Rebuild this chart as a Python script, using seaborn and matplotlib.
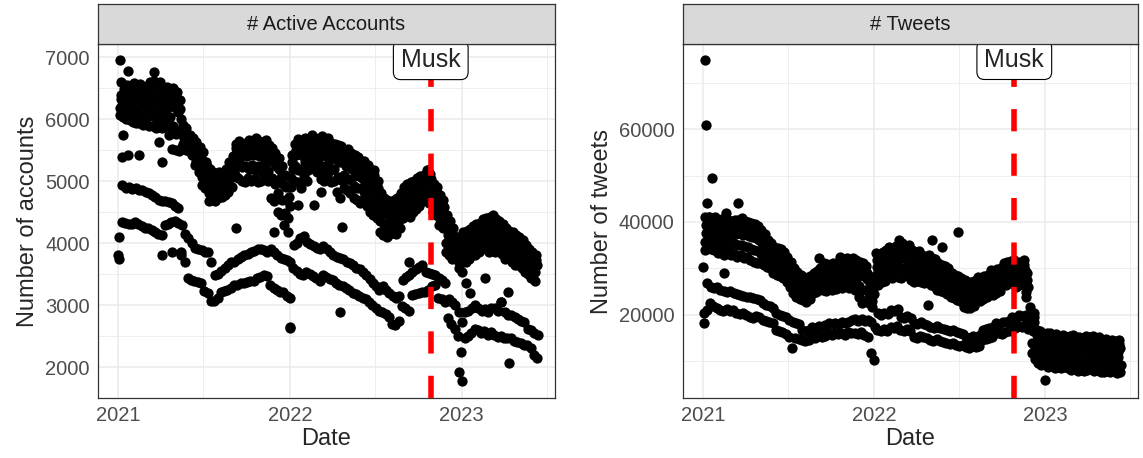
import numpy as np
import pandas as pd
import matplotlib
matplotlib.use("Agg")
import matplotlib.pyplot as plt
import matplotlib.dates as mdates
import seaborn as sns

# weekly series: one row per week starting Monday 2021-01-04
start = pd.Timestamp("2021-01-04")
musk_date = pd.Timestamp("2022-10-27")
day_offset = {"mon": 0, "tue": 1, "wed": 2, "thu": 3, "fri": 4, "sat": 5, "sun": 6}

# ---- # Active Accounts ----
acc_wed = [6390, 6480, 6550, 6520, 6580, 6500, 6560, 6450, 6530, 6600,
           6620, 6540, 6600, 6500, 6520, 6470, 6500, 6440, 6300, 5900,
           5850, 5740, 5700, 5630, 5550, 5470, 5300, 5200, 5150, 5100,
           5150, 5100, 5200, 5300, 5400, 5600, 5650, 5600, 5620, 5660,
           5600, 5690, 5640, 5600, 5660, 5580, 5530, 5450, 5370, 5250,
           5100, 4900, 5420, 5600, 5680, 5650, 5690, 5620, 5740, 5700,
           5680, 5720, 5650, 5700, 5620, 5600, 5580, 5560, 5500, 5520,
           5450, 5420, 5380, 5300, 5330, 5260, 5180, 5100, 5000, 4800,
           4720, 4700, 4650, 4700, 4720, 4800, 4900, 4950, 4980, 5000,
           5050, 5080, 5100, 5180, 5120, 4950, 4900, 4780, 4700, 4450,
           4350, 4250, 4100, 4000, 4180, 4200, 4230, 4280, 4300, 4330,
           4380, 4400, 4420, 4450, 4380, 4350, 4300, 4240, 4200, 4180,
           4130, 4100, 4050, 3970, 3900, 3860, 3800]
acc_thu = [6330, 6420, 6430, 6470, 6420, 6440, 6400, 6420, 6380, 6460,
           6500, 6380, 6450, 6380, 6420, 6350, 6390, 6280, 6160, 5800,
           5760, 5650, 5640, 5500, 5460, 5320, 5240, 5060, 5040, 5010,
           5060, 5040, 5110, 5200, 5300, 5540, 5560, 5530, 5520, 5560,
           5520, 5560, 5510, 5500, 5540, 5470, 5420, 5340, 5200, 5100,
           4900, 4750, 5310, 5500, 5570, 5520, 5560, 5500, 5640, 5590,
           5570, 5580, 5520, 5590, 5490, 5480, 5450, 5420, 5380, 5400,
           5330, 5260, 5230, 5180, 5160, 5100, 5030, 4950, 4880, 4650,
           4600, 4580, 4550, 4580, 4600, 4680, 4790, 4820, 4870, 4920,
           4950, 4980, 5040, 5090, 5040, 4860, 4800, 4640, 4580, 4290,
           4200, 4120, 3980, 3900, 4020, 4090, 4110, 4170, 4190, 4220,
           4250, 4270, 4290, 4310, 4260, 4220, 4190, 4130, 4100, 4080,
           4030, 4000, 3950, 3890, 3830, 3780, 3720]
acc_fri = [6230, 6300, 6330, 6340, 6300, 6330, 6280, 6350, 6300, 6260,
           6300, 6250, 6280, 6200, 6300, 6250, 6200, 6120, 6000, 5700,
           5650, 5600, 5550, 5400, 5350, 5200, 5150, 4950, 4900, 4950,
           4950, 4980, 5000, 5100, 5150, 5470, 5450, 5480, 5400, 5450,
           5420, 5420, 5400, 5380, 5420, 5350, 5310, 5250, 5040, 4950,
           4700, 4600, 5200, 5420, 5450, 5400, 5430, 5380, 5530, 5480,
           5450, 5420, 5400, 5450, 5380, 5350, 5310, 5300, 5250, 5280,
           5200, 5100, 5080, 5050, 5000, 4950, 4880, 4800, 4750, 4500,
           4480, 4450, 4460, 4450, 4480, 4550, 4670, 4700, 4750, 4830,
           4850, 4880, 4990, 5000, 4950, 4780, 4700, 4500, 4450, 4130,
           4050, 3980, 3860, 3800, 3860, 3970, 4000, 4050, 4080, 4100,
           4120, 4130, 4150, 4180, 4130, 4100, 4080, 4020, 4000, 3970,
           3920, 3900, 3850, 3800, 3760, 3700, 3650]
acc_tue = [6180, 6120, 6230, 6100, 6180, 6080, 6150, 6060, 6160, 6050,
           6120, 6020, 6110, 6000, 6140, 6030, 5880, 5760, 5800, 5600,
           5600, 5520, 5500, 5330, 5280, 5060, 5030, 4800, 4840, 4790,
           4860, 4830, 4920, 4950, 5060, 5260, 5330, 5220, 5250, 5200,
           5260, 5180, 5240, 5150, 5270, 5160, 5050, 4950, 4800, 4700,
           4480, 4400, 5050, 5250, 5180, 5200, 5300, 5180, 5400, 5330,
           5300, 5250, 5180, 5280, 5170, 5200, 5060, 5020, 5100, 5040,
           5020, 4920, 4880, 4880, 4830, 4800, 4680, 4650, 4560, 4350,
           4300, 4250, 4330, 4290, 4340, 4380, 4550, 4560, 4600, 4650,
           4720, 4720, 4850, 4830, 4820, 4620, 4600, 4380, 4360, 4000,
           3930, 3850, 3820, 3700, 3720, 3850, 3860, 3950, 3930, 3990,
           4020, 3980, 4050, 4000, 4020, 3960, 3980, 3870, 3900, 3820,
           3800, 3740, 3740, 3650, 3640, 3550, 3530]
acc_mon = [6060, 6040, 6000, 5980, 5950, 5930, 5940, 5900, 5920, 5880,
           5880, 5860, 5870, 5850, 5900, 5850, 5520, 5500, 5480, 5550,
           5500, 5480, 5420, 5260, 5150, 4940, 4880, 4680, 4720, 4680,
           4720, 4750, 4780, 4830, 4900, 5100, 5050, 5000, 4990, 5050,
           5000, 5040, 4980, 5000, 5050, 5000, 4720, 4670, 4500, 4450,
           4290, 4180, 4900, 5000, 4990, 4880, 5100, 5000, 5260, 5200,
           5150, 5040, 5000, 5080, 4990, 5000, 4830, 4720, 4880, 4850,
           4800, 4720, 4700, 4650, 4700, 4600, 4500, 4450, 4400, 4180,
           4130, 4100, 4150, 4180, 4150, 4250, 4400, 4450, 4420, 4500,
           4550, 4600, 4670, 4700, 4650, 4500, 4450, 4290, 4250, 3860,
           3800, 3750, 3750, 3600, 3540, 3700, 3750, 3800, 3810, 3850,
           3900, 3430, 3860, 3900, 3850, 3880, 3820, 3750, 3215, 3700,
           3650, 3640, 3600, 3540, 3500, 3430, 3380]
acc_sun = [4940, 4880, 4900, 4870, 4880, 4850, 4860, 4830, 4800, 4780,
           4750, 4700, 4670, 4680, 4660, 4640, 4600, 4560, 4290, 4150,
           4080, 4000, 3920, 3900, 3880, 3860, 3850, 3700, 3480, 3500,
           3550, 3600, 3650, 3700, 3700, 3750, 3780, 3800, 3830, 3860,
           3870, 3910, 3900, 3880, 3860, 3900, 3850, 3800, 3760, 3750,
           3720, 3700, 3960, 4000, 4080, 4120, 4020, 3980, 3950, 3920,
           3900, 3950, 3900, 3850, 3800, 3780, 3760, 3750, 3700, 3680,
           3650, 3600, 3580, 3540, 3480, 3420, 3350, 3300, 3250, 3300,
           3250, 3200, 3150, 3110, 3150, 3400, 3450, 3480, 3540, 3580,
           3620, 3640, 3540, 3520, 3500, 3480, 3430, 3400, 3350, 3100,
           3050, 3000, 2890, 2730, 2890, 2900, 2950, 3000, 2950, 2900,
           2930, 2890, 2950, 2950, 2900, 3050, 2880, 2840, 2840, 2800,
           2780, 2750, 2730, 2620, 2600, 2550, 2520]
acc_sat = [4340, 4320, 4300, 4310, 4340, 4300, 4280, 4250, 4240, 4210,
           4180, 4150, 4130, 4290, 4300, 4340, 4350, 4320, 3860, 3700,
           3430, 3400, 3380, 3370, 3350, 3220, 3200, 3060, 3060, 3110,
           3210, 3230, 3250, 3270, 3320, 3330, 3350, 3360, 3370, 3380,
           3380, 3430, 3450, 3480, 3460, 3320, 3280, 3250, 3215, 3210,
           3150, 3108, 3590, 3550, 3500, 3480, 3540, 3500, 3460, 3430,
           3380, 3480, 3450, 3420, 3400, 3350, 3320, 3300, 3280, 3250,
           3200, 3180, 3150, 3110, 3100, 3050, 3000, 2950, 2900, 2890,
           2850, 2800, 2700, 2680, 2750, 2990, 2950, 2900, 3160, 3180,
           3200, 3215, 3215, 3250, 3300, 3320, 3110, 3100, 3050, 2790,
           2700, 2620, 2500, 2250, 2460, 2500, 2550, 2620, 2600, 2550,
           2580, 2520, 2560, 2520, 2480, 2500, 2470, 2460, 2460, 2420,
           2400, 2380, 2350, 2350, 2300, 2200, 2140]
acc_extra_dates = ["2021-01-01", "2021-01-02", "2021-01-03", "2021-01-05", "2021-01-07",
                   "2021-01-08", "2021-01-12", "2021-01-21", "2021-01-22", "2021-02-15",
                   "2021-03-18", "2021-03-29", "2021-04-05", "2021-04-04", "2021-04-26",
                   "2021-05-14", "2021-04-19", "2021-09-08", "2021-11-28", "2021-12-31",
                   "2022-01-01", "2022-01-17", "2022-02-21", "2022-03-07", "2022-04-18",
                   "2022-04-21", "2022-06-28", "2022-09-10", "2022-10-22", "2022-12-25",
                   "2023-01-01", "2023-01-10", "2023-01-18", "2023-03-26", "2023-04-12"]
acc_extra_vals = [3810, 3750, 4090, 6950, 6590,
                  5390, 5740, 6775, 5420, 5420,
                  6764, 5635, 5312, 3807, 3860,
                  3807, 5740, 4237, 4183, 2624,
                  2640, 4614, 4614, 4828, 2893,
                  4263, 5178, 3700, 5178, 1920,
                  1770, 3350, 3200, 3055, 2060]

# ---- # Tweets ----
tw_wed = [41100, 41150, 40800, 41000, 40430, 40600, 40200, 40500, 40300, 40400,
          40430, 40800, 40200, 40000, 39720, 39500, 39200, 38280, 37500, 36130,
          35500, 34700, 34500, 34200, 33500, 32500, 31500, 30200, 29300, 28600,
          28240, 28000, 28300, 28960, 29500, 30200, 31110, 31000, 30800, 31200,
          31100, 32540, 32000, 32300, 31800, 32200, 31830, 31500, 31200, 30500,
          28240, 27000, 33260, 33000, 33500, 34000, 34700, 34200, 34900, 36130,
          35400, 34700, 35000, 33980, 33500, 33800, 33000, 32540, 32800, 32200,
          32000, 31110, 30800, 30500, 30200, 28960, 28600, 28300, 28000, 27530,
          27200, 27000, 27300, 28240, 28000, 28300, 28500, 29680, 29500, 29900,
          30200, 31110, 31300, 31600, 31900, 31110, 31500, 31800, 28960, 21800,
          20500, 16780, 16500, 15500, 16060, 16200, 15800, 16000, 15340, 15600,
          15200, 15500, 15800, 15300, 15340, 15100, 15500, 15200, 15400, 15000,
          15300, 14630, 14800, 14500, 14700, 14400, 14600]
tw_thu = [39300, 39700, 39400, 39600, 39000, 39200, 38700, 39000, 38700, 38900,
          39000, 39000, 38800, 38500, 38300, 38000, 37700, 36800, 36100, 35000,
          34500, 33600, 33300, 33000, 32300, 31300, 30400, 29100, 28100, 27500,
          27200, 27000, 27300, 27900, 28400, 29100, 30000, 29900, 29700, 30100,
          30000, 31100, 30700, 31000, 30500, 30900, 30400, 30100, 29800, 29100,
          26800, 25700, 31800, 31600, 32000, 32500, 33200, 32800, 33400, 34300,
          33800, 33300, 33600, 32500, 32100, 32400, 31700, 31500, 31400, 31000,
          30800, 30000, 29700, 29500, 29200, 27900, 27500, 27300, 27000, 26400,
          26100, 26000, 26300, 27200, 26900, 27300, 27500, 28600, 28400, 28800,
          29100, 30000, 30200, 30500, 30800, 30000, 30400, 30700, 27500, 20700,
          19500, 15700, 15400, 14600, 15000, 15100, 14700, 14900, 14200, 14500,
          14100, 14400, 14600, 14200, 14300, 14000, 14400, 14100, 14300, 13900,
          14200, 13900, 13900, 13600, 13900, 13600, 13800]
tw_fri = [37560, 38280, 38000, 38300, 37560, 37800, 37300, 37600, 37200, 37500,
          37560, 37200, 37400, 37000, 36850, 36500, 36200, 35410, 34800, 33980,
          33500, 32540, 32200, 31800, 31110, 30200, 29300, 28000, 27000, 26500,
          26100, 26000, 26300, 26810, 27300, 28000, 28960, 28800, 28600, 29000,
          28900, 29680, 29500, 29800, 29300, 29600, 29000, 28700, 28400, 27800,
          25380, 24500, 30400, 30200, 30600, 31000, 31800, 31500, 32000, 32540,
          32200, 32000, 32300, 31110, 30800, 31000, 30500, 30400, 30100, 29900,
          29700, 28960, 28700, 28500, 28200, 26810, 26500, 26300, 26000, 25380,
          25100, 25000, 25300, 26100, 25900, 26300, 26600, 27530, 27300, 27800,
          28100, 28960, 29200, 29400, 29700, 28960, 29300, 29600, 26000, 19640,
          18500, 14630, 14300, 13800, 13910, 14100, 13700, 13900, 13190, 13400,
          13000, 13300, 13500, 13100, 13190, 13000, 13300, 13100, 13200, 12900,
          13100, 13190, 13000, 12800, 13100, 12900, 13000]
tw_tue = [35800, 36500, 36100, 36200, 35400, 35700, 35100, 35500, 35000, 35300,
          35000, 35000, 34800, 34700, 34300, 34000, 33700, 33200, 32700, 32200,
          31700, 30700, 30400, 30100, 29500, 28600, 27600, 26400, 25500, 24900,
          24700, 24400, 24800, 25700, 26100, 26600, 27200, 27000, 27100, 27200,
          27200, 27900, 27600, 28000, 27600, 27800, 27200, 26300, 25400, 25400,
          23900, 23100, 28600, 28400, 28800, 29100, 30000, 29700, 30200, 30400,
          30100, 30200, 30300, 29300, 29000, 29200, 28700, 28600, 28100, 28200,
          28000, 27200, 26900, 26700, 26400, 25400, 25000, 24800, 24500, 23600,
          23300, 23200, 23600, 24700, 24400, 24800, 25200, 26100, 25800, 26300,
          26600, 27900, 27800, 28100, 28400, 27500, 27900, 28200, 25000, 18500,
          17500, 13500, 13200, 12600, 12800, 13000, 12600, 12800, 12100, 12300,
          12000, 12200, 12400, 12000, 12500, 12200, 12600, 12300, 12500, 12100,
          12400, 12200, 12000, 11800, 12100, 11900, 12000]
tw_mon = [33980, 34700, 34300, 34000, 33260, 33500, 33000, 33300, 32900, 33100,
          32540, 32800, 32300, 32500, 31830, 31500, 31200, 31110, 30700, 30400,
          30000, 28960, 28600, 28400, 28000, 27000, 26000, 24800, 23940, 23400,
          23230, 22800, 23400, 24660, 25000, 25300, 25380, 25200, 25600, 25400,
          25500, 26100, 25800, 26300, 25900, 26000, 25380, 23940, 22510, 23000,
          22510, 21800, 26810, 26500, 27000, 27300, 28240, 27900, 28400, 28240,
          28000, 28500, 28300, 27530, 27200, 27400, 27000, 26810, 22150, 26500,
          26300, 25380, 25100, 24900, 24600, 23940, 23600, 23300, 23100, 21800,
          21600, 21500, 21900, 23230, 23000, 23400, 23800, 24660, 24400, 24800,
          25200, 26810, 26500, 26900, 27200, 26100, 26500, 26800, 23940, 17490,
          16500, 12480, 12200, 11500, 11760, 11900, 11500, 11700, 11040, 11300,
          10900, 11200, 11400, 11000, 11760, 11500, 11900, 11600, 11800, 11400,
          11700, 11200, 11000, 10800, 11100, 10900, 11000]
tw_sun = [26810, 26100, 25800, 26000, 25380, 25200, 24900, 25100, 24800, 24500,
          24300, 24000, 23800, 23940, 23600, 23400, 23200, 22510, 22200, 21900,
          21500, 20360, 20000, 19800, 19500, 18930, 18600, 18300, 18000, 16780,
          16500, 16700, 17490, 17300, 17600, 17500, 17800, 18210, 18000, 18300,
          18100, 18400, 18200, 18500, 18930, 19200, 18800, 19100, 18700, 18930,
          18500, 17500, 20360, 20100, 20500, 20200, 21070, 20800, 21200, 19640,
          19400, 19800, 19300, 18210, 18000, 18400, 18100, 17900, 17490, 17300,
          17600, 17200, 17000, 16780, 16500, 16700, 16400, 16200, 16000, 15340,
          15100, 15500, 15300, 15600, 16780, 16900, 17200, 17500, 18210, 18000,
          18400, 18600, 18800, 19640, 19400, 19900, 19700, 20000, 19000, 13910,
          12800, 11040, 10800, 10500, 10330, 10500, 10200, 10400, 10100, 10300,
          10000, 9610, 9800, 9500, 9700, 9400, 9600, 9900, 9500, 9700,
          9300, 9610, 9400, 9700, 9200, 9500, 9300]
tw_sat = [21070, 22510, 22000, 21500, 21070, 20900, 21200, 20800, 21000, 20360,
          20200, 20500, 20000, 19640, 19400, 19800, 19500, 18930, 18700, 18500,
          18200, 16780, 16500, 16300, 16000, 15340, 12830, 15100, 14900, 14630,
          14400, 14700, 15340, 15100, 15400, 15200, 15500, 16060, 15800, 16200,
          15900, 16100, 15700, 16300, 16060, 16200, 15900, 16300, 15800, 15340,
          11760, 10330, 16780, 16500, 16900, 16600, 17490, 17200, 17600, 16780,
          16500, 16900, 16600, 15340, 15100, 15500, 15200, 15000, 14630, 14400,
          14800, 14500, 14300, 13910, 13700, 14000, 13600, 13400, 13500, 13190,
          13000, 13300, 13100, 13400, 14630, 14800, 15000, 15300, 16060, 16200,
          15900, 16300, 16500, 17490, 17300, 17700, 17500, 17800, 17000, 11760,
          10500, 9610, 9200, 6020, 8890, 9000, 8700, 8900, 8600, 8800,
          8500, 8170, 8300, 8000, 8200, 7900, 8100, 8400, 8000, 8200,
          7800, 7820, 8000, 7700, 7900, 7600, 7800]
tw_extra_dates = ["2021-01-01", "2021-01-02", "2021-01-03", "2021-01-05", "2021-01-07",
                  "2021-01-10", "2021-01-13", "2021-01-20", "2021-02-18", "2021-03-16",
                  "2021-02-15", "2021-09-06", "2022-05-04", "2022-05-25", "2022-06-28"]
tw_extra_vals = [30400, 20360, 18210, 74840, 60860,
                 44090, 41080, 49460, 41860, 44090,
                 28960, 32200, 36130, 34700, 37920]


def build_frame(series, extra_dates, extra_vals):
    parts = []
    for day, vals in series.items():
        n = len(vals)
        dates = start + pd.to_timedelta(7 * np.arange(n) + day_offset[day], unit="D")
        parts.append(pd.DataFrame({"date": dates, "value": vals}))
    parts.append(pd.DataFrame({"date": pd.to_datetime(extra_dates), "value": extra_vals}))
    return pd.concat(parts, ignore_index=True)


acc = build_frame({"mon": acc_mon, "tue": acc_tue, "wed": acc_wed, "thu": acc_thu,
                   "fri": acc_fri, "sat": acc_sat, "sun": acc_sun},
                  acc_extra_dates, acc_extra_vals)
tw = build_frame({"mon": tw_mon, "tue": tw_tue, "wed": tw_wed, "thu": tw_thu,
                  "fri": tw_fri, "sat": tw_sat, "sun": tw_sun},
                 tw_extra_dates, tw_extra_vals)

sns.set_style("white")
plt.rcParams["font.family"] = ["Liberation Sans", "DejaVu Sans"]

W, H = 1143, 458
fig = plt.figure(figsize=(W / 100, H / 100), dpi=100)


def px_axes(x0, y0, x1, y1):
    return fig.add_axes([x0 / W, 1 - y1 / H, (x1 - x0) / W, (y1 - y0) / H])


panels = [
    dict(df=acc, title="# Active Accounts", ylabel="Number of accounts", ylim=(1500, 7210),
         major=[2000, 3000, 4000, 5000, 6000, 7000],
         minor=[1500, 2500, 3500, 4500, 5500, 6500], x0=98, x1=555),
    dict(df=tw, title="# Tweets", ylabel="Number of tweets", ylim=(2150, 78280),
         major=[20000, 40000, 60000], minor=[10000, 30000, 50000, 70000], x0=683, x1=1138),
]

top, bottom, strip_top = 44, 398, 4
for p in panels:
    ax = px_axes(p["x0"], top, p["x1"], bottom)
    sns.scatterplot(data=p["df"], x="date", y="value", ax=ax, color="black",
                    s=55, linewidth=0, zorder=2)
    ax.set_xlim(pd.Timestamp("2020-11-19"), pd.Timestamp("2023-07-18"))
    ax.set_ylim(*p["ylim"])
    ax.xaxis.set_major_locator(mdates.YearLocator())
    ax.xaxis.set_major_formatter(mdates.DateFormatter("%Y"))
    ax.xaxis.set_minor_locator(mdates.MonthLocator(bymonth=7))
    ax.set_yticks(p["major"])
    ax.set_yticks(p["minor"], minor=True)
    ax.set_axisbelow(True)
    ax.grid(which="major", color="#EBEBEB", lw=1.1)
    ax.grid(which="minor", color="#EBEBEB", lw=0.6)
    ax.tick_params(which="major", length=3, width=0.8, color="#333333",
                   labelcolor="#4D4D4D", labelsize=14.5, pad=3)
    ax.tick_params(which="minor", length=0)
    for s in ax.spines.values():
        s.set_color("#333333")
        s.set_linewidth(0.9)
    ax.set_xlabel("Date", fontsize=17, labelpad=2)
    ax.set_ylabel(p["ylabel"], fontsize=17, labelpad=4)

    ax.axvline(musk_date, color="red", lw=4, linestyle=(0, (4, 4)), zorder=3)
    ax.text(musk_date, p["df"]["value"].max(), "Musk", ha="center", va="center",
            fontsize=18, zorder=4,
            bbox=dict(boxstyle="round,pad=0.3,rounding_size=0.3", fc="white",
                      ec="black", lw=0.8))

    strip = px_axes(p["x0"], strip_top, p["x1"], top)
    strip.set_facecolor("#D9D9D9")
    strip.set_xticks([])
    strip.set_yticks([])
    for s in strip.spines.values():
        s.set_color("#333333")
        s.set_linewidth(0.9)
    strip.text(0.5, 0.5, p["title"], ha="center", va="center", fontsize=14.5,
               color="#1A1A1A", transform=strip.transAxes)

fig.savefig("out.png", dpi=100)
